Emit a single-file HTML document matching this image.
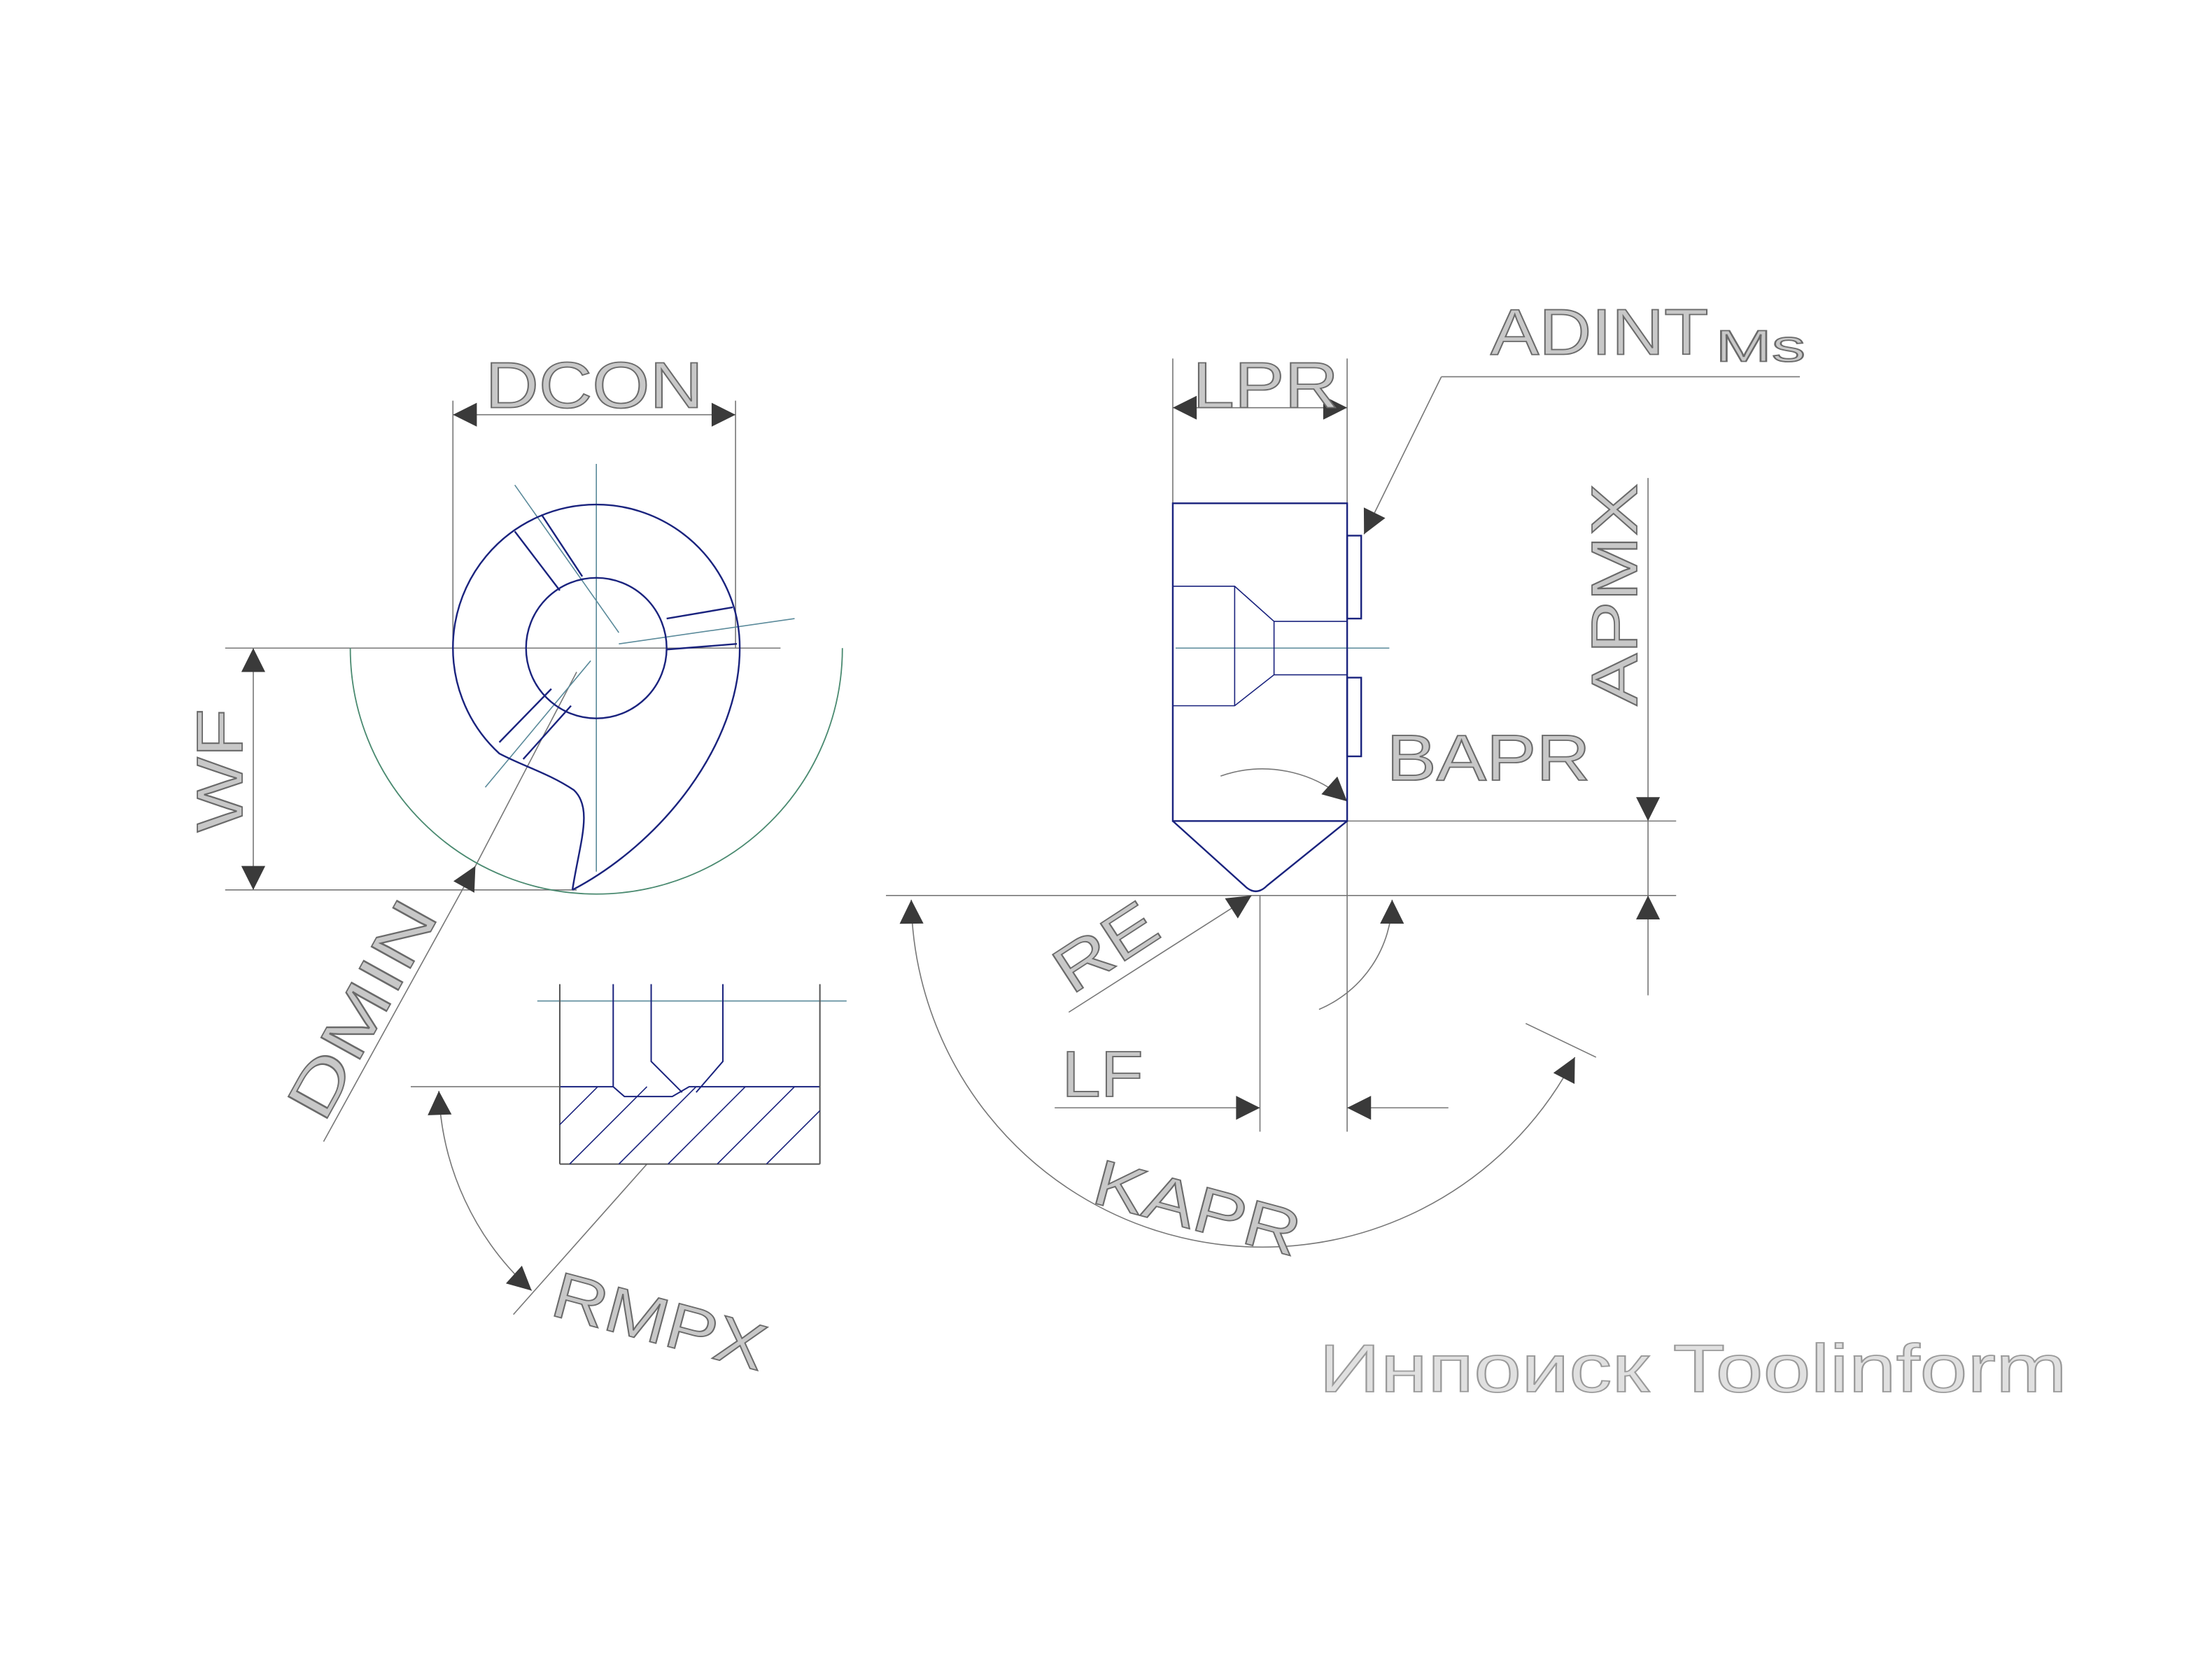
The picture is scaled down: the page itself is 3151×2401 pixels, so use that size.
<!DOCTYPE html>
<html><head><meta charset="utf-8"><style>
html,body{margin:0;padding:0;background:#fff}
svg{display:block}
text{font-family:"Liberation Sans","DejaVu Sans",sans-serif;fill:#c8c8c8;stroke:#6a6a6a;stroke-width:0.9}
</style></head><body>
<svg width="3151" height="2401" viewBox="0 0 1568 1195" xmlns="http://www.w3.org/2000/svg">
<defs>
<marker id="ar" viewBox="0 0 10 10" refX="10" refY="5" markerWidth="36" markerHeight="17" markerUnits="userSpaceOnUse" orient="auto-start-reverse"><path d="M0,0 L10,5 L0,10 z" fill="#3a3a3a"/></marker>
</defs>
<g fill="none" stroke="#777" stroke-width="0.8">
<line x1="322" y1="285" x2="322" y2="461"/><line x1="523" y1="285" x2="523" y2="461"/>
<line x1="322" y1="295" x2="523" y2="295" marker-start="url(#ar)" marker-end="url(#ar)"/>
<line x1="160" y1="461" x2="555" y2="461"/><line x1="160" y1="633" x2="410" y2="633"/>
<line x1="180" y1="461" x2="180" y2="633" marker-start="url(#ar)" marker-end="url(#ar)"/>
<line x1="230" y1="812" x2="338" y2="616" marker-end="url(#ar)"/>
<line x1="338" y1="616" x2="410" y2="478"/>
<line x1="424" y1="330" x2="424" y2="620" stroke="#5a8a9a"/>
<line x1="834" y1="255" x2="834" y2="358"/><line x1="958" y1="255" x2="958" y2="358"/>
<line x1="834" y1="290" x2="958" y2="290" marker-start="url(#ar)" marker-end="url(#ar)"/>
<line x1="1025" y1="268" x2="1280" y2="268"/>
<line x1="1025" y1="268" x2="970" y2="380" marker-end="url(#ar)"/>
<line x1="958" y1="584" x2="1192" y2="584"/><line x1="630" y1="637" x2="1192" y2="637"/>
<line x1="1172" y1="340" x2="1172" y2="584" marker-end="url(#ar)"/>
<line x1="1172" y1="584" x2="1172" y2="637"/>
<line x1="1172" y1="708" x2="1172" y2="637" marker-end="url(#ar)"/>
<line x1="760" y1="720" x2="890" y2="637" marker-end="url(#ar)"/>
<line x1="896" y1="637" x2="896" y2="805"/><line x1="958" y1="584" x2="958" y2="805"/>
<line x1="750" y1="788" x2="896" y2="788" marker-end="url(#ar)"/>
<line x1="1030" y1="788" x2="958" y2="788" marker-end="url(#ar)"/>
<path d="M868,552 A90,90 0 0 1 958,570" marker-end="url(#ar)"/>
<path d="M938,718 A85,85 0 0 0 990,640" marker-end="url(#ar)"/>
<path d="M648,640 A250,250 0 0 0 1120,752" marker-start="url(#ar)" marker-end="url(#ar)"/>
<line x1="1085" y1="728" x2="1135" y2="752"/>
<line x1="292" y1="773" x2="398" y2="773"/>
<path d="M312,776 A200,200 0 0 0 378,918" marker-start="url(#ar)" marker-end="url(#ar)"/>
<line x1="365" y1="935" x2="460" y2="828"/>
<line x1="836" y1="461" x2="988" y2="461" stroke="#5a8a9a"/>
<line x1="382" y1="712" x2="602" y2="712" stroke="#5a8a9a"/>
<line x1="366" y1="345" x2="440" y2="450" stroke="#5a8a9a"/>
<line x1="440" y1="458" x2="565" y2="440" stroke="#5a8a9a"/>
<line x1="345" y1="560" x2="420" y2="470" stroke="#5a8a9a"/>
</g>
<path d="M249,461 A175,175 0 0 0 599,461" fill="none" stroke="#4a8a70" stroke-width="0.9"/>
<g fill="none" stroke="#1a237e" stroke-width="1.2">
<circle cx="424" cy="461" r="50"/>
<path d="M407,633 C412,600 422,575 408,562 C390,550 372,545 355,536 A102,102 0 1 1 526,461 C526,530 470,600 407,633"/>
<line x1="366" y1="378" x2="398" y2="420"/><line x1="385" y1="366" x2="414" y2="410"/>
<line x1="474" y1="440" x2="521" y2="432"/><line x1="474" y1="462" x2="524" y2="458"/>
<line x1="355" y1="528" x2="392" y2="490"/><line x1="372" y1="540" x2="406" y2="502"/>
</g>
<g fill="none" stroke="#1a237e" stroke-width="1.2">
<rect x="834" y="358" width="124" height="226"/>
<path d="M834,584 L885,630 Q893,638 901,630 L958,584"/>
<rect x="958" y="381" width="10" height="59"/><rect x="958" y="482" width="10" height="56"/>
<path d="M834,417 H878 L906,442 H958 M834,502 H878 L906,480 H958 M878,417 V502 M906,442 V480" stroke-width="0.8"/>
</g>
<g fill="none" stroke="#1a237e" stroke-width="1">
<path d="M398,773 H436 L444,780 H478 L490,773 H583 M436,700 V773 M463,700 V755 L485,777 M514,700 V755 L495,777"/>
<path d="M398,828 H583 M398,700 V828 M583,700 V828" stroke="#555"/>
<g stroke-width="0.8"><path d="M398,800 L425,773 M405,828 L460,773 M440,828 L495,773 M475,828 L530,773 M510,828 L565,773 M545,828 L583,790"/></g>
</g>
<g>
<text x="345" y="290" font-size="46" textLength="155" lengthAdjust="spacingAndGlyphs">DCON</text>
<text x="848" y="290" font-size="46" textLength="104" lengthAdjust="spacingAndGlyphs">LPR</text>
<text x="1060" y="252" font-size="46"><tspan textLength="155" lengthAdjust="spacingAndGlyphs">ADINT</tspan><tspan x="1220" font-size="32" dy="5" textLength="64" lengthAdjust="spacingAndGlyphs">Ms</tspan></text>
<text x="986" y="555" font-size="46" textLength="145" lengthAdjust="spacingAndGlyphs">BAPR</text>
<text transform="translate(1164,502) rotate(-90)" font-size="46" textLength="158" lengthAdjust="spacingAndGlyphs">APMX</text>
<text transform="translate(172,592) rotate(-90)" font-size="46" textLength="88" lengthAdjust="spacingAndGlyphs">WF</text>
<text transform="translate(230,800) rotate(-61)" font-size="46" textLength="170" lengthAdjust="spacingAndGlyphs">DMIN</text>
<text transform="translate(762,708) rotate(-33)" font-size="46" textLength="78" lengthAdjust="spacingAndGlyphs">RE</text>
<text x="755" y="780" font-size="46" textLength="58" lengthAdjust="spacingAndGlyphs">LF</text>
<text transform="translate(775,855) rotate(15)" font-size="46" textLength="150" lengthAdjust="spacingAndGlyphs">KAPR</text>
<text transform="translate(390,935) rotate(15)" font-size="46" textLength="155" lengthAdjust="spacingAndGlyphs">RMPX</text>
<text x="938" y="990" font-size="48" textLength="532" lengthAdjust="spacingAndGlyphs" style="fill:#e0e0e0;stroke:#9a9a9a">Инпоиск Toolinform</text>
</g>
</svg>
</body></html>
